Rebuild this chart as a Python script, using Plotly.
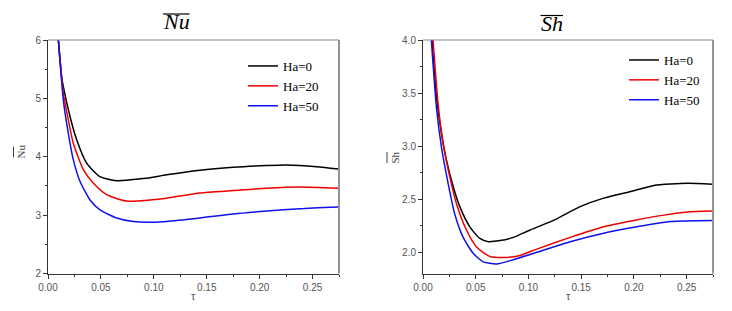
import plotly.graph_objects as go

# ---- data ----
nu_tau_0 = [0.0098, 0.0129, 0.0145, 0.0208, 0.0271, 0.0365, 0.0491, 0.0649, 0.0806, 0.0964, 0.1121, 0.1436, 0.1751, 0.2067, 0.2256, 0.2539, 0.2744]
nu_ha_0 = [6.0, 5.37, 5.20, 4.69, 4.29, 3.89, 3.66, 3.59, 3.61, 3.64, 3.69, 3.77, 3.82, 3.85, 3.86, 3.83, 3.79]
nu_tau_20 = [0.0098, 0.0145, 0.0192, 0.0239, 0.0334, 0.0428, 0.0554, 0.0743, 0.0964, 0.1121, 0.1436, 0.1751, 0.2067, 0.2381, 0.2744]
nu_ha_20 = [6.0, 5.09, 4.63, 4.23, 3.78, 3.55, 3.35, 3.24, 3.26, 3.29, 3.38, 3.42, 3.46, 3.48, 3.46]
nu_tau_50 = [0.0098, 0.0145, 0.0192, 0.0239, 0.0302, 0.0397, 0.0491, 0.0649, 0.0806, 0.0995, 0.1121, 0.1436, 0.1751, 0.2067, 0.2381, 0.2744]
nu_ha_50 = [6.0, 4.97, 4.40, 3.95, 3.58, 3.26, 3.09, 2.95, 2.89, 2.88, 2.89, 2.95, 3.02, 3.07, 3.11, 3.14]

sh_tau_0 = [0.0086, 0.0127, 0.0175, 0.0222, 0.0286, 0.0349, 0.0444, 0.0539, 0.0619, 0.0730, 0.0857, 0.1015, 0.1237, 0.1490, 0.1713, 0.2000, 0.2190, 0.2506, 0.2744]
sh_ha_0 = [4.0, 3.47, 3.12, 2.87, 2.62, 2.43, 2.24, 2.13, 2.10, 2.11, 2.14, 2.21, 2.30, 2.43, 2.51, 2.58, 2.63, 2.65, 2.64]
sh_tau_20 = [0.0095, 0.0143, 0.0190, 0.0254, 0.0317, 0.0412, 0.0508, 0.0635, 0.0761, 0.0920, 0.1079, 0.1396, 0.1713, 0.2000, 0.2284, 0.2506, 0.2744]
sh_ha_20 = [4.0, 3.40, 3.03, 2.71, 2.46, 2.21, 2.05, 1.96, 1.95, 1.97, 2.03, 2.14, 2.24, 2.30, 2.35, 2.38, 2.39]
sh_tau_50 = [0.0079, 0.0127, 0.0175, 0.0238, 0.0301, 0.0381, 0.0476, 0.0571, 0.0698, 0.0857, 0.1079, 0.1396, 0.1713, 0.2030, 0.2348, 0.2744]
sh_ha_50 = [4.0, 3.37, 2.99, 2.65, 2.36, 2.14, 1.99, 1.91, 1.89, 1.93, 2.00, 2.10, 2.18, 2.24, 2.29, 2.30]

series_names = ["Ha=0", "Ha=20", "Ha=50"]
series_colors = ["#000000", "#ee0000", "#1010ee"]
x_ticks = [0.00, 0.05, 0.10, 0.15, 0.20, 0.25]
x_tick_text = ["0.00", "0.05", "0.10", "0.15", "0.20", "0.25"]

W, H = 732, 311
def px(x):
    return x / W
def py(y):
    return 1 - y / H

fig = go.Figure()

nu_sets = [(nu_tau_0, nu_ha_0), (nu_tau_20, nu_ha_20), (nu_tau_50, nu_ha_50)]
sh_sets = [(sh_tau_0, sh_ha_0), (sh_tau_20, sh_ha_20), (sh_tau_50, sh_ha_50)]

for (t, v), name, col in zip(nu_sets, series_names, series_colors):
    fig.add_trace(go.Scatter(x=t, y=v, mode="lines", name=name,
                             line=dict(color=col, width=1.5, shape="spline", smoothing=0.6),
                             xaxis="x", yaxis="y", legend="legend"))
for (t, v), name, col in zip(sh_sets, series_names, series_colors):
    fig.add_trace(go.Scatter(x=t, y=v, mode="lines", name=name,
                             line=dict(color=col, width=1.5, shape="spline", smoothing=0.6),
                             xaxis="x2", yaxis="y2", legend="legend2"))

tickfont = dict(family="Liberation Sans", size=10, color="#555555")
ax_common = dict(showline=True, linecolor="#333333", linewidth=1, mirror=False,
                 ticks="outside", ticklen=4, tickcolor="#333333", tickwidth=1,
                 showgrid=False, zeroline=False, tickfont=tickfont, automargin=False)

legfont = dict(family="Liberation Serif", size=13, color="#000")
yd = [py(273.5), py(40)]
fig.update_layout(
    width=W, height=H,
    margin=dict(l=0, r=0, t=0, b=0),
    paper_bgcolor="white", plot_bgcolor="white",
    xaxis=dict(domain=[px(48), px(339)], range=[0, 0.275], tickvals=x_ticks, ticktext=x_tick_text,
               minor=dict(dtick=0.025, tick0=0, ticks="outside", ticklen=2, tickcolor="#333333"),
               anchor="y", **ax_common),
    yaxis=dict(domain=yd, range=[2, 6], dtick=1, tick0=2,
               minor=dict(dtick=0.5, tick0=2, ticks="outside", ticklen=2, tickcolor="#333333"),
               anchor="x", **ax_common),
    xaxis2=dict(domain=[px(423), px(713)], range=[0, 0.275], tickvals=x_ticks, ticktext=x_tick_text,
                minor=dict(dtick=0.025, tick0=0, ticks="outside", ticklen=2, tickcolor="#333333"),
                anchor="y2", **ax_common),
    yaxis2=dict(domain=yd, range=[1.8, 4.0], dtick=0.5, tick0=2.0, tickformat=".1f",
                minor=dict(dtick=0.25, tick0=2.0, ticks="outside", ticklen=2, tickcolor="#333333"),
                anchor="x2", **ax_common),
    legend=dict(x=px(243), y=py(51), xanchor="left", yanchor="top", font=legfont,
                bgcolor="rgba(0,0,0,0)", tracegroupgap=0, itemwidth=30),
    legend2=dict(x=px(624), y=py(45), xanchor="left", yanchor="top", font=legfont,
                 bgcolor="rgba(0,0,0,0)", tracegroupgap=0, itemwidth=30),
    showlegend=True,
)

# top/right frame lines (lighter gray, as in reference)
for xr, yr in [("x domain", "y domain"), ("x2 domain", "y2 domain")]:
    fig.add_shape(type="line", xref=xr, yref=yr, x0=0, x1=1, y0=1, y1=1,
                  line=dict(color="#888888", width=1.2))
    fig.add_shape(type="line", xref=xr, yref=yr, x0=1, x1=1, y0=0, y1=1,
                  line=dict(color="#888888", width=1.8))

title_font = dict(family="Liberation Serif", size=22, color="#000")
# panel titles with overline
fig.add_annotation(x=px(176), y=py(22), xref="paper", yref="paper", text="<i>Nu</i>",
                   showarrow=False, font=title_font, xanchor="center", yanchor="middle")
fig.add_shape(type="line", xref="paper", yref="paper", x0=px(163), x1=px(189.5), y0=py(14), y1=py(14),
              line=dict(color="#000", width=1.2))
fig.add_annotation(x=px(552), y=py(23), xref="paper", yref="paper", text="<i>Sh</i>",
                   showarrow=False, font=title_font, xanchor="center", yanchor="middle")
fig.add_shape(type="line", xref="paper", yref="paper", x0=px(540.5), x1=px(563), y0=py(15.5), y1=py(15.5),
              line=dict(color="#000", width=1.2))

# axis titles
lab_font = dict(family="Liberation Serif", size=11, color="#444444")
fig.add_annotation(x=px(193.5), y=py(296), xref="paper", yref="paper", text="τ", showarrow=False,
                   xanchor="center", yanchor="middle",
                   font=dict(family="Liberation Sans", size=11, color="#555555"))
fig.add_annotation(x=px(568), y=py(296), xref="paper", yref="paper", text="τ", showarrow=False,
                   xanchor="center", yanchor="middle",
                   font=dict(family="Liberation Sans", size=11, color="#555555"))
fig.add_annotation(x=px(20.5), y=py(152), xref="paper", yref="paper", text="Nu", textangle=-90,
                   xanchor="center", yanchor="middle", showarrow=False, font=lab_font)
fig.add_shape(type="line", xref="paper", yref="paper", x0=px(13.5), x1=px(13.5), y0=py(146.5), y1=py(157.5),
              line=dict(color="#444444", width=1))
fig.add_annotation(x=px(394), y=py(157.5), xref="paper", yref="paper", text="Sh", textangle=-90,
                   xanchor="center", yanchor="middle", showarrow=False, font=lab_font)
fig.add_shape(type="line", xref="paper", yref="paper", x0=px(387), x1=px(387), y0=py(152), y1=py(163),
              line=dict(color="#444444", width=1))

fig.write_html("out.html", config={"displayModeBar": False},
               post_script="document.body.style.margin='0';document.body.style.padding='0';")
